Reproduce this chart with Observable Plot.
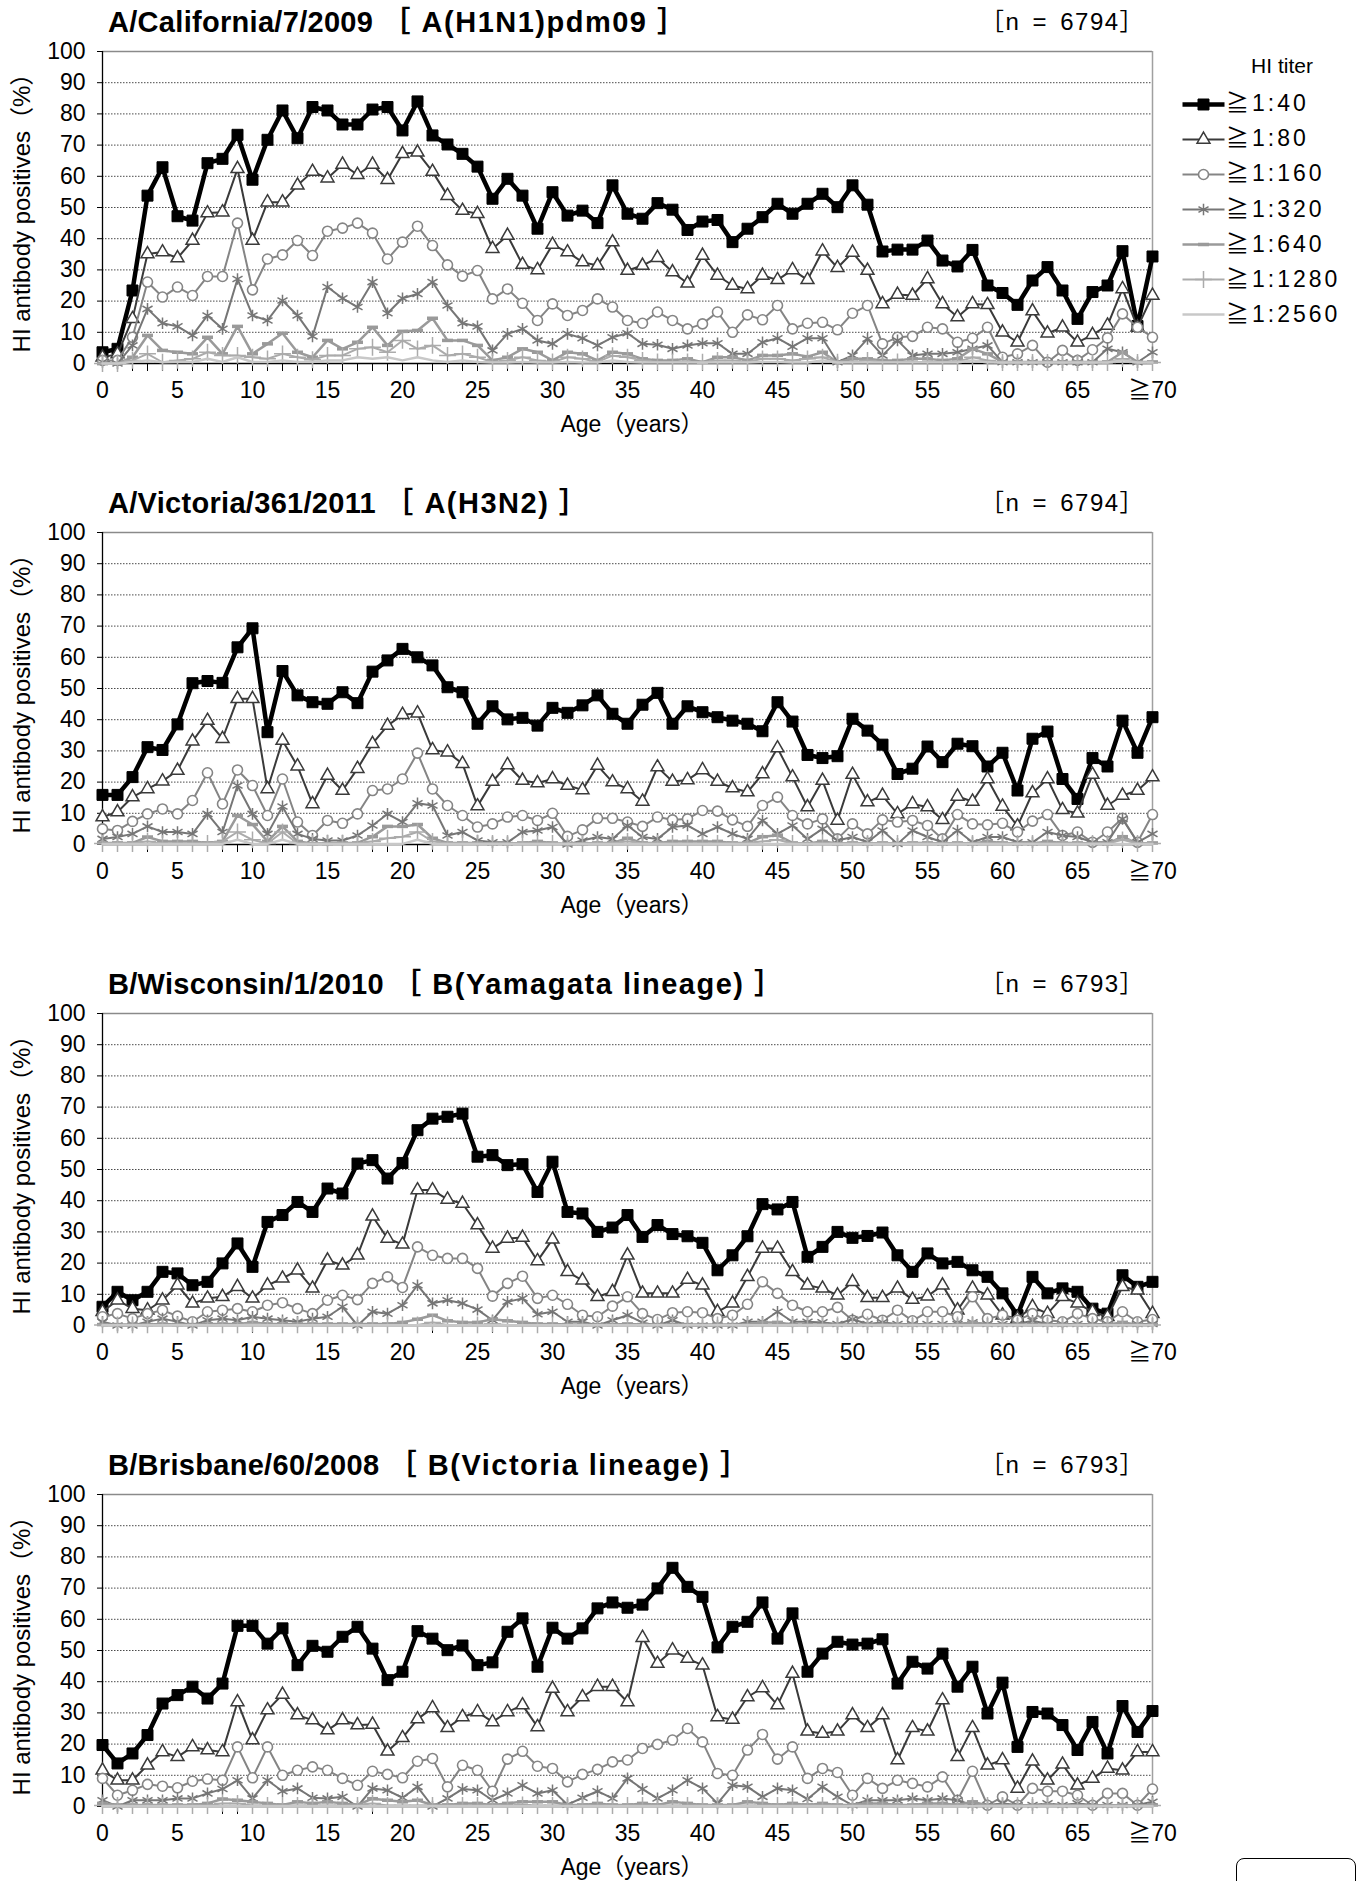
<!DOCTYPE html>
<html><head><meta charset="utf-8">
<script src="https://cdn.jsdelivr.net/npm/d3@7"></script>
<script src="https://cdn.jsdelivr.net/npm/@observablehq/plot@0.6"></script>
<style>
body{margin:0;background:#fff;}
#root{position:relative;width:1358px;height:1881px;overflow:hidden;font-family:"Liberation Sans",Arial,"Noto Sans CJK JP",sans-serif;color:#000;background:#fff;}
.abs{position:absolute;white-space:pre;}
.title{font-size:29px;font-weight:bold;line-height:32px;letter-spacing:0.3px;}
.title .sub{letter-spacing:1.5px;}
.nlab{font-size:24px;line-height:30px;letter-spacing:1.5px;word-spacing:4px;}
.xlab{font-size:23px;line-height:26px;transform:translate(-50%,-50%);}
.ylab{font-size:24px;line-height:26px;transform:translate(-50%,-50%) rotate(-90deg);}
.leg{font-size:23px;line-height:26px;letter-spacing:3px;transform:translate(0,-50%);}
.legtitle{font-size:21px;line-height:26px;transform:translate(-50%,-50%);}
.box{position:absolute;left:1236px;top:1858px;width:118px;height:60px;border:1.5px solid #000;border-radius:8px;}
</style></head><body><div id="root"></div>
<script>
const ages = [0,1,2,3,4,5,6,7,8,9,10,11,12,13,14,15,16,17,18,19,20,21,22,23,24,25,26,27,28,29,30,31,32,33,34,35,36,37,38,39,40,41,42,43,44,45,46,47,48,49,50,51,52,53,54,55,56,57,58,59,60,61,62,63,64,65,66,67,68,69,70];
const xTickVals = [0,5,10,15,20,25,30,35,40,45,50,55,60,65,70];
const xTickLabels = ["0","5","10","15","20","25","30","35","40","45","50","55","60","65","≧70"];
const yTickVals = [0,10,20,30,40,50,60,70,80,90,100];
const yTickLabels = ["0","10","20","30","40","50","60","70","80","90","100"];
const titers = ["≧1:40","≧1:80","≧1:160","≧1:320","≧1:640","≧1:1280","≧1:2560"];
const strainNames = ["A/California/7/2009","A/Victoria/361/2011","B/Wisconsin/1/2010","B/Brisbane/60/2008"];
const strainTypes = ["［ A(H1N1)pdm09 ］","［ A(H3N2) ］","［ B(Yamagata lineage) ］","［ B(Victoria lineage) ］"];
const panelN = ["［n = 6794］","［n = 6794］","［n = 6793］","［n = 6793］"];

// A/California/7/2009
const cal40 = [3.6,4.7,23.4,53.8,62.9,47.2,45.8,64.2,65.6,73.3,58.9,71.7,81.1,72.2,82.2,81.1,76.6,76.6,81.4,82.2,74.7,84,73.1,70.2,67.2,63.1,52.8,59.2,53.8,43.2,54.9,47.4,49,45,57.1,48,46.4,51.4,49.3,42.8,45.5,46,38.9,43.2,46.9,51.2,48,51.2,54.4,50.1,57.1,50.9,35.9,36.5,36.5,39.4,33,31.1,36.4,25,22.6,18.8,26.6,30.9,23.4,14.3,22.9,25,36,12,34.3];
const cal80 = [2,3,14.3,35.1,35.7,33.8,39.4,48.2,48.5,62.4,39.4,51.7,51.7,57.1,61.5,59.4,63.8,60.5,63.8,58.9,67.2,67.7,61.5,53.8,49,48,36.8,41,31.7,30,38.1,35.7,32.5,31.4,38.9,29.8,31.4,33.9,29.3,25.7,34.6,28.2,25,23.9,28.2,26.8,30,26.8,36,30.7,35.6,29.8,19.1,22.1,21.8,27.1,19.1,14.9,19.1,18.8,10,6.8,16.8,9.7,11.6,6.8,9.2,12.2,23.9,11.6,21.8];
const cal160 = [1,1,8.4,26.1,21.3,24.5,21.8,27.9,27.9,45,23.6,33.5,34.8,39.4,34.6,42.4,43.4,45,41.8,33.5,38.9,44,37.8,31.6,28,29.8,20.7,23.9,19.3,13.8,19.1,15.4,17,20.7,18.1,13.8,12.9,16.5,13.8,11.1,12.7,16.5,10,15.6,14,18.6,11.1,12.9,13.2,10.8,16.1,18.6,6.3,8.4,8.7,11.6,11.1,6.8,8.1,11.6,2,3.1,5.8,0.4,4.2,1,4.4,8.2,15.9,11.6,8.4];
const cal320 = [0.5,0,5.8,17.5,12.9,11.9,9,15.4,11.1,27.1,15.4,13.8,20.2,15.4,8.7,24.5,20.9,18.1,26.1,16.1,20.9,22.3,26.1,18.6,12.9,11.9,4.2,9.5,11.1,7.4,6.3,9.5,8.1,5.8,8.4,9.7,6.3,6,4.7,5.8,6.5,6.5,3.1,3.1,6.8,8.1,5.4,8.1,8.1,0.4,2.6,7.9,2.6,7.4,2.6,3.1,3.1,3.6,4.7,5.8,0.4,0.4,0.4,0.4,0.4,0.4,0.4,4.7,3.6,0.4,3.6];
const cal640 = [0,0,2,9,4.2,3.6,3.1,8.4,3.1,11.9,3.1,6.3,9.7,3.6,2,7.4,4.7,6.8,11.6,5.8,10.3,10.6,14.5,7.4,7.4,5.8,1,2,4.7,3.6,1,3.6,3.1,1,3.6,3.1,1.5,1,1,1.5,0.4,2,2,1,2.6,2.6,3.1,2.2,3.6,0.4,1.5,1.5,1,1,1.5,1.5,1,1.5,4.7,3.1,0.5,0.5,0.5,0.5,0.5,0.5,0.5,0.5,3.6,0.5,0.5];
const cal1280 = [0,0,1,3.1,0.4,1,1.5,3.6,2.6,2.6,2,1.5,3.1,2,1.2,2.6,2.6,4.7,5.2,3.6,7.4,4.7,5.8,2.6,3.1,2,0.5,1,2,1,0.5,2,1.5,0.5,2.5,2,1,0.5,0.5,0.5,0.4,1,1,0.5,1.5,1.5,1,1.5,2,0.4,0.5,1,0.5,0.5,0.5,0.5,0.5,0.5,2,1,0.3,0.3,0.3,0.3,0.3,0.3,0.3,0.3,1.5,0.3,0.3];
const cal2560 = [0,0,0.5,1,0.4,0.5,0.5,1.5,0.5,2,0.5,0.5,1,0.5,0.5,1,1,2,1.5,2,1,2,1,0.5,1,0.5,0.3,0.3,0.5,0.3,0.3,0.5,0.3,0.3,1,0.5,0.3,0.3,0.3,0.3,0.3,0.3,0.3,0.3,0.5,0.5,0.3,0.3,1,0.3,0.3,0.3,0.3,0.3,0.3,0.3,0.3,0.3,1,0.3,0.3,0.3,0.3,0.3,0.3,0.3,0.3,0.3,1,0.3,0.3];

// A/Victoria/361/2011
const vic40 = [15.9,15.9,21.6,31.2,30.3,38.5,51.7,52.4,51.8,63.2,69.3,36,55.6,47.8,45.6,45.1,48.8,45.3,55.4,59,62.7,60,57.4,50.4,48.8,38.7,44.3,40.1,40.6,38.1,43.8,42.2,44.6,47.8,41.9,38.7,44.8,48.6,38.7,44.3,42.4,40.8,39.7,38.7,36.3,45.6,39.4,28.7,27.7,28.3,40.3,36.5,32,22.6,24.3,31.4,26.4,32.3,31.5,25,29.4,17.3,33.9,36.2,21,14.6,27.7,25,39.7,29.4,40.8];
const vic80 = [8.8,10.4,15.2,17.8,20.3,23.7,33.1,39.7,33.9,46.7,46.7,17.8,33.3,25.1,13,22.1,17.3,24.3,32.3,38.1,41.6,42.1,30.3,29.6,25.9,12.3,20.2,25.5,20.5,19.7,21,18.9,17.5,25.3,20,17.8,13.8,24.8,20.2,20.7,23.9,20.2,18.1,16.8,22.6,30.9,21.6,12,20.5,7.7,22.4,13.6,15.7,9.8,13,12,7.9,15.4,13.8,21,12.2,5.9,16.5,21,11.1,10,22.4,12.5,15.7,17.3,21.6];
const vic160 = [5,4.5,7.4,9.8,11.4,9.8,14.1,23,13,23.9,18.9,9.3,21,7.2,2.9,7.7,6.8,9.8,17.3,17.8,21,29.3,17.8,12.5,9.3,5.6,6.6,8.8,9.3,7.7,10,2.6,4.7,8.4,8.4,7.2,5.8,8.8,7.9,8.2,10.9,10.7,7.9,5.8,12.5,15.2,9.3,6.6,8.2,1.8,6.6,3.4,7.9,7.2,7.7,6.1,1.8,9.6,6.6,6.3,6.8,4,7.5,9.6,2.9,4,0.7,4,8.4,0.7,9.6];
const vic320 = [1.8,2.4,3.4,5.8,4,4,3.4,9.8,4,18.9,9.8,3.4,12.2,3.4,1.8,1.3,1.3,2.9,6.1,9.8,7.2,13.2,12.5,2.9,4,1.3,0.7,0.7,4,4.5,5.6,0,1.3,2.4,1.8,6.1,2.4,1.8,5.6,6.1,3.4,5.6,3.4,1.8,7.7,3.4,6.1,1.8,5,1.3,2.4,0.7,4.5,0.2,4.5,2.4,0.7,4.5,0.7,2.4,2.4,0.7,0.7,4,2.9,2.4,0.7,0.7,8.2,0.7,3.4];
const vic640 = [0.5,0.5,0.5,2.4,1,1,1,0.5,1,9.3,6.4,1,5.8,1,0.3,0.3,0.5,0.5,2.5,5.8,5.8,6.4,2,0.5,0.5,0.5,0.3,0.3,0.5,1,0.5,0,0.3,0.5,0.5,2,0.5,0.5,1,1,1,1,0.5,0.5,2.5,3,0.5,0.3,1,0.3,0.5,0.3,0.5,0.3,0.5,0.5,0.3,0.5,0.3,1,0.5,0.3,0.3,1,0.5,0.5,0.3,0.3,2.5,0.3,0.5];
const vic1280 = [0.3,0.3,0.3,1,0.3,0.3,0.3,0.3,1,4,1.5,0.3,4,0.3,0.3,0.3,0.3,0.3,1,2,2.5,4,1,0.3,0.3,0.3,0.3,0.3,0.3,0.3,0.3,0.3,0.3,0.3,0.3,1,0.3,0.3,0.3,0.3,0.3,0.3,0.3,0.3,1,1.5,0.3,0.3,0.3,0.3,0.3,0.3,0.3,0.3,0.3,0.3,0.3,0.3,0.3,0.3,0.3,0.3,0.3,0.3,0.3,0.3,0.3,0.3,1.5,0.3,0.3];
const vic2560 = [0.2,0.2,0.2,0.2,0.2,0.2,0.2,0.2,0.2,1.5,0.2,0.2,1.5,0.2,0.2,0.2,0.2,0.2,0.2,0.2,0.2,1.5,0.2,0.2,0.2,0.2,0.2,0.2,0.2,0.2,0.2,0.2,0.2,0.2,0.2,0.2,0.2,0.2,0.2,0.2,0.2,0.2,0.2,0.2,0.2,0.2,0.2,0.2,0.2,0.2,0.2,0.2,0.2,0.2,0.2,0.2,0.2,0.2,0.2,0.2,0.2,0.2,0.2,0.2,0.2,0.2,0.2,0.2,0.2,0.2,0.2];

// B/Wisconsin/1/2010
const wis40 = [6,10.8,8.1,10.8,17.2,16.7,12.9,14,19.9,26.3,18.8,33.2,35.4,39.6,36.4,43.9,42.3,51.9,53,47.1,52.1,62.6,66.3,66.9,67.9,54.1,54.6,51.4,51.7,42.8,52.5,36.4,35.9,30,31.4,35.4,28.4,32.2,29.3,28.6,26.5,17.7,22.5,28.6,38.9,37.2,39.6,22,25.2,30,28.1,28.7,29.8,22.5,17.2,23.1,19.9,20.4,17.7,15.6,10.3,3.3,15.6,10.3,11.9,10.8,5.4,3.8,16.1,12.4,14];
const wis80 = [4.4,8.1,5.4,4.9,8.1,12.9,7.1,8.7,9.2,12.4,8.7,12.9,15.1,17.7,11.9,20.9,19.3,22.5,35,27.9,26,43.4,43.4,40.4,39.1,32.2,24.7,27.9,28.2,20.7,27.6,17.2,14.5,9.2,10.8,22.5,10.3,10.3,10.3,14.7,12.9,4.4,7.1,15.6,24.7,24.7,17.2,12.9,11.9,9.7,14,8.9,8.9,11.9,8.3,9.4,12.9,4.9,11.9,9.7,3.3,2.2,6,3.8,9.2,7.1,4.4,2.8,12.4,11.3,3.8];
const wis160 = [2.8,3.8,2.2,3.8,4.9,3,1.2,4.4,4.9,5.4,4.4,6.5,7.3,5.4,3.8,8.1,9.7,8.3,13.5,15.6,12.2,25.2,22.5,21.5,21.5,18.3,9.4,13.5,15.8,8.7,9.7,6.8,3.3,2.8,6.2,9.2,3.8,1.9,4.1,4.4,4.1,2.2,3.3,6.8,14,10.3,6.5,4.4,4.4,5.8,1.7,3.6,1.7,4.9,1.5,4.4,4.4,2.8,9.2,2.2,3.3,1.7,3.8,1.7,1.2,3.8,2.2,1.2,4.4,1.2,1.9];
const wis320 = [1.2,0,0,1.2,2.2,1.2,0,1.7,2.2,1.7,2.8,2.2,1.7,1.2,2.2,2.8,6,0,4.4,3.8,6.5,12.9,7.1,8.1,7.1,5.1,1.7,7.6,8.7,3.6,4.4,1.2,1.2,0,1.7,3.3,0.9,0,1.7,0,0,0,0,1.2,1.2,4.4,1.2,1.2,1,0.5,2,0.5,1,0.5,0.5,0.5,0.5,0.5,1,0.5,0.5,0.5,1.5,0.5,0.5,0.5,0.5,0.5,0.5,0.5,0.5];
const wis640 = [0.3,0.3,0.3,0.3,0.5,0.3,0.3,0.5,0.5,0.5,1,0.5,0.5,0.5,0.5,0.5,0.5,0.5,0.5,0.5,1,2,3.3,1.5,1,1,2,1.5,1,0.5,0.5,0.3,0.3,0.3,0.3,0.5,0.3,0.3,0.3,0.3,0.3,0.3,0.3,0.3,1,1,0.3,0.3,0.3,0.3,0.3,0.3,0.3,0.3,0.3,0.3,0.3,0.3,1,0.3,0.3,0.3,0.3,0.3,0.3,0.3,0.3,0.3,1,0.3,0.3];
const wis1280 = [0.2,0.2,0.2,0.2,0.2,0.2,0.2,0.2,0.2,0.2,0.5,0.2,0.2,0.2,0.2,0.2,0.2,0.2,0.2,0.2,0.2,0.2,1,0.2,0.2,0.2,0.5,0.2,0.2,0.2,0.2,0.2,0.2,0.2,0.2,0.2,0.2,0.2,0.2,0.2,0.2,0.2,0.2,0.2,0.2,0.2,0.2,0.2,0.2,0.2,0.2,0.2,0.2,0.2,0.2,0.2,0.2,0.2,0.2,0.2,0.2,0.2,0.2,0.2,0.2,0.2,0.2,0.2,0.2,0.2,0.2];
const wis2560 = [0.1,0.1,0.1,0.1,0.1,0.1,0.1,0.1,0.1,0.1,0.1,0.1,0.1,0.1,0.1,0.1,0.1,0.1,0.1,0.1,0.1,0.1,0.1,0.1,0.1,0.1,0.1,0.1,0.1,0.1,0.1,0.1,0.1,0.1,0.1,0.1,0.1,0.1,0.1,0.1,0.1,0.1,0.1,0.1,0.1,0.1,0.1,0.1,0.1,0.1,0.1,0.1,0.1,0.1,0.1,0.1,0.1,0.1,0.1,0.1,0.1,0.1,0.1,0.1,0.1,0.1,0.1,0.1,0.1,0.1,0.1];

// B/Brisbane/60/2008
const bri40 = [19.7,13.8,17,22.9,33,35.7,38.4,34.6,39.4,57.9,57.9,52.2,57.1,45.3,51.5,49.6,54.4,57.6,50.6,40.5,43.2,56.2,53.8,50.1,51.6,45.3,46.2,56,60.3,44.8,57.3,53.8,57.1,63.5,65.4,63.7,64.7,69.9,76.5,70.4,67.2,51,57.6,59.2,65.4,53.8,61.9,43.2,49,52.8,51.9,52.2,53.6,39.4,46.4,44.2,49,38.4,44.8,29.8,39.7,19.1,30.3,29.8,26.1,18.1,27.1,17,32.2,23.9,30.6];
const bri80 = [11.6,8.4,8.4,13.2,17.5,15.9,19.1,18.1,17.5,33.5,21.3,30.9,35.9,29.3,27.7,24.5,27.7,26.1,26.3,17.7,22,28,31.6,25.2,28.7,30.3,27.1,30.3,32.5,25.5,37.8,30.3,35.1,38.4,38.4,33.5,54.1,45.8,50.1,47.4,45.3,28.7,27.9,35.1,38,32.5,42.6,24.1,23.4,24.1,29.3,25.2,29.3,14.9,25.2,24.1,34.1,15.9,25.2,13.2,14.9,5.8,14.5,8.4,13.5,6.8,9,12.2,11.6,17.5,17.5];
const bri160 = [9,3.6,5.2,7.1,6.5,6,8.1,8.8,8.4,19.1,9.2,19.1,10,11.6,12.7,11.6,9,6.8,11.3,10.3,9.2,14.5,15.4,6.3,13.2,11.6,4.9,15.2,17.7,12.9,12.2,7.9,10.3,11.9,14.3,14.9,18.6,19.9,21.3,25,20.7,10.6,10,18.1,23.1,15.2,19.1,9,12.2,10.9,3.6,9,5.8,8.4,7.4,6.3,9.5,2,11.3,0.4,3.1,0.4,5.8,4.9,4.9,3.6,0.4,4.2,4.2,0.4,5.6];
const bri320 = [2,0,2,2,2,2.6,2.6,4.2,5.6,8.4,2.6,8.4,4.9,5.8,2.8,2.6,3.1,0,5.8,5.2,2.8,6.3,0,2.6,5.6,5.2,2,4.2,6.8,4.2,5.2,0.6,2.8,4.9,2.6,9,5.6,2.6,5.2,8.4,5.8,1,6.8,6.3,3.1,5.8,5.2,2.4,6.3,3.1,0.4,2,2,2,2.6,2,2.6,2,0.4,0.5,1,0.5,0.5,1,0.5,1,0.5,0.5,0.5,0.5,1.5];
const bri640 = [1,0.5,0.5,0.5,0.5,0.5,0.5,1,2.4,2,1.5,1,0.5,1.5,1,1.5,1,0.5,2.5,2,1.5,2,0.5,0.5,1,1,0.5,1,1.5,1.5,1.5,0.5,0.5,1,0.5,0.5,1,0.5,1.5,1,0.5,0.5,0.5,1.5,1,0.5,1,0.5,1,0.5,0.5,1,1,0.5,0.5,1,1,0.5,1.5,0.3,0.3,0.3,0.3,0.5,0.3,0.3,0.3,0.3,0.5,0.3,0.5];
const bri1280 = [0.3,0.3,0.3,0.3,0.3,0.3,0.3,0.3,1,1,0.3,0.3,0.3,0.3,0.3,0.3,0.3,0.3,1,0.3,0.3,0.3,0.3,0.3,0.3,0.3,0.3,0.3,0.5,0.3,0.3,0.3,0.3,0.3,0.3,0.3,0.3,0.3,0.3,0.3,0.3,0.3,0.3,0.3,0.3,0.3,0.3,0.3,0.3,0.3,0.3,0.3,0.3,0.3,0.3,0.3,0.3,0.3,0.3,0.3,0.3,0.3,0.3,0.3,0.3,0.3,0.3,0.3,0.3,0.3,0.3];
const bri2560 = [0.1,0.1,0.1,0.1,0.1,0.1,0.1,0.1,0.1,0.1,0.1,0.1,0.1,0.1,0.1,0.1,0.1,0.1,0.1,0.1,0.1,0.1,0.1,0.1,0.1,0.1,0.1,0.1,0.1,0.1,0.1,0.1,0.1,0.1,0.1,0.1,0.1,0.1,0.1,0.1,0.1,0.1,0.1,0.1,0.1,0.1,0.1,0.1,0.1,0.1,0.1,0.1,0.1,0.1,0.1,0.1,0.1,0.1,0.1,0.1,0.1,0.1,0.1,0.1,0.1,0.1,0.1,0.1,0.1,0.1,0.1];

const panelSeries = [
  [cal40,cal80,cal160,cal320,cal640,cal1280,cal2560],
  [vic40,vic80,vic160,vic320,vic640,vic1280,vic2560],
  [wis40,wis80,wis160,wis320,wis640,wis1280,wis2560],
  [bri40,bri80,bri160,bri320,bri640,bri1280,bri2560]
];

const dashSymbol = {draw(ctx, size){ const r = Math.sqrt(size/Math.PI); ctx.rect(-r, -r*0.32, 2*r, r*0.64); }};
const styles = [
  {stroke:"#000000", sw:4.5, symbol:"square", r:6.2, fill:"#000000", mstroke:"#000000", msw:1},
  {stroke:"#3a3a3a", sw:2, symbol:"triangle", r:4.8, fill:"#ffffff", mstroke:"#3a3a3a", msw:1.5},
  {stroke:"#858585", sw:2, symbol:"circle", r:5, fill:"#ffffff", mstroke:"#858585", msw:1.6},
  {stroke:"#767676", sw:2, symbol:"asterisk", r:5.5, fill:"none", mstroke:"#767676", msw:1.5},
  {stroke:"#9a9a9a", sw:2.5, symbol:dashSymbol, r:5.5, fill:"#9a9a9a", mstroke:"none", msw:0},
  {stroke:"#ababab", sw:2, symbol:"plus", r:5.5, fill:"none", mstroke:"#ababab", msw:1.5},
  {stroke:"#c8c8c8", sw:2.5, symbol:null}
];

const root = document.getElementById("root");
const PANEL_STEP = 481;
const FONT = "'Liberation Sans', Arial, 'Noto Sans CJK JP', sans-serif";

function makePanel(series) {
  const marks = [
    Plot.gridY([10,20,30,40,50,60,70,80,90], {stroke:"#4a4a4a", strokeOpacity:1, strokeWidth:1, strokeDasharray:"1.5,1.5"}),
    Plot.ruleY([100], {stroke:"#8a8a8a", strokeWidth:1.5}),
    Plot.ruleX([70], {stroke:"#a0a0a0", strokeWidth:1.5}),
    Plot.axisY({ticks: yTickVals, tickSize:5, tickPadding:12, label:null, tickFormat: d => yTickLabels[yTickVals.indexOf(d)]}),
    Plot.axisX({ticks: ages, tickSize:8, tickFormat: () => "", label:null}),
    Plot.axisX({ticks: xTickVals, tickSize:0, tickPadding:18, label:null, tickFormat: d => xTickLabels[xTickVals.indexOf(d)]}),
    Plot.ruleX([0], {stroke:"#000", strokeWidth:1.3}),
    Plot.ruleY([0], {stroke:"#000", strokeWidth:1.3})
  ];
  series.forEach((vals, k) => {
    const s = styles[k];
    marks.push(Plot.line(vals, {x: ages, y: vals, stroke: s.stroke, strokeWidth: s.sw, strokeLinejoin: "round"}));
    if (s.symbol) marks.push(Plot.dot(vals, {x: ages, y: vals, symbol: s.symbol, r: s.r, fill: s.fill, stroke: s.mstroke, strokeWidth: s.msw}));
  });
  return Plot.plot({
    width: 1182, height: 420,
    marginLeft: 102, marginRight: 30, marginTop: 15, marginBottom: 93,
    x: {domain: [0, 70]},
    y: {domain: [0, 100]},
    style: {fontFamily: FONT, fontSize: "23px", color: "#000", background: "transparent"},
    marks
  });
}

function addDiv(cls, text, left, top) {
  const d = document.createElement("div");
  d.className = "abs " + cls;
  d.textContent = text;
  d.style.left = left + "px";
  d.style.top = top + "px";
  root.appendChild(d);
  return d;
}

panelSeries.forEach((series, i) => {
  const T = i * PANEL_STEP;
  const svg = makePanel(series);
  svg.style.position = "absolute";
  svg.style.left = "0px";
  svg.style.top = (T + 36) + "px";
  root.appendChild(svg);
  const t = addDiv("title", "", 108, T + 6);
  const s1 = document.createElement("span"); s1.textContent = strainNames[i] + " ";
  const s2 = document.createElement("span"); s2.className = "sub"; s2.textContent = strainTypes[i];
  t.appendChild(s1); t.appendChild(s2);
  addDiv("nlab", panelN[i], 980, T + 7);
  addDiv("xlab", "Age（years）", 632, T + 424);
  addDiv("ylab", "HI antibody positives（%）", 22, T + 207);
});

// legend: line + marker samples drawn with Plot, labels as HTML text
const LEG_TOP = 80;
const legendY = d3.scalePoint().domain(titers).range([23, 234]).padding(0);
const legend = Plot.plot({
  width: 50, height: 260, margin: 0,
  x: {domain: [0, 1], range: [2, 44]},
  y: {type: "point", domain: titers, range: [23, 234], padding: 0},
  style: {background: "transparent"},
  marks: titers.flatMap((t, k) => {
    const s = styles[k];
    const m = [Plot.link([t], {x1: 0, x2: 1, y1: d => d, y2: d => d, stroke: s.stroke, strokeWidth: s.sw})];
    if (s.symbol) m.push(Plot.dot([t], {x: 0.5, y: d => d, symbol: s.symbol, r: s.r, fill: s.fill, stroke: s.mstroke, strokeWidth: s.msw}));
    return m;
  })
});
legend.style.position = "absolute";
legend.style.left = "1180px";
legend.style.top = LEG_TOP + "px";
root.appendChild(legend);
titers.forEach(t => addDiv("leg", t, 1226, LEG_TOP + legendY(t)));
addDiv("legtitle", "HI titer", 1282, 66);

const box = document.createElement("div");
box.className = "box";
root.appendChild(box);
</script></body></html>
